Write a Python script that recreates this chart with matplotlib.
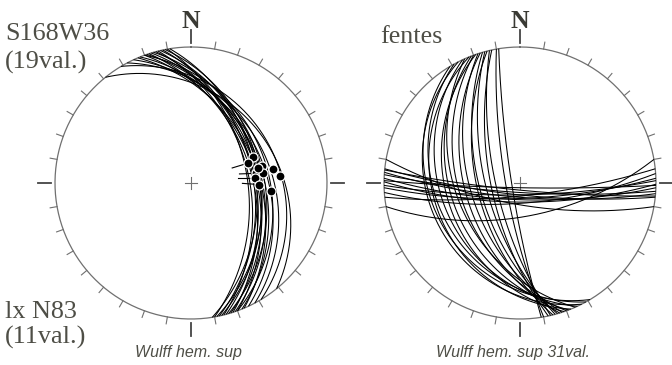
import numpy as np
import matplotlib
matplotlib.use("Agg")
import matplotlib.pyplot as plt

# ---------------- data ----------------
# Left net: planes S168W36 (19 values) -> strike (south end azimuth) and dip (to the W)
left_strike = [141, 149, 152, 155, 157, 158, 160, 161, 162, 163, 164, 165, 166, 167, 168, 169, 170, 171, 160]
left_dip = [26, 25, 30, 33, 38, 35, 40, 36, 42, 38, 34, 40, 44, 37, 41, 36, 45, 39, 31]
# Left net: lineations lx N83 (11 values) -> azimuth, elevation (upper hemisphere)
lin_az = [66.9, 70.8, 76.7, 80.5, 85.5, 81.6, 82.3, 85.9, 91.3, 95.5, 77.4]
lin_el = [37.5, 41.8, 33.8, 27.0, 23.4, 38.1, 33.8, 39.8, 36.6, 29.0, 36.4]
tail_idx = [1, 5, 7, 8]
tail_az = [253, 268, 270, 274]

# Right net: fentes (31 values)
# E-W group: west-end azimuth and dip (to the N)
ew_west = [280, 276, 275.5, 274.5, 273.5, 272, 271, 270.5, 269, 268, 266, 264, 260]
ew_dip = [72, 80, 84, 78, 82, 76, 86, 74, 80, 77, 73, 79, 62]
# NNW group: north-end azimuth and dip (to the E)
nn_north = [329, 331, 333, 335, 336, 338, 339, 340, 341, 342, 343, 344, 345, 346, 347, 348, 350, 351]
nn_dip = [24, 27, 22, 30, 40, 25, 36, 42, 33, 50, 46, 57, 62, 55, 70, 66, 78, 83]

left_title = ["S168W36", "(19val.)"]
left_sub = ["lx N83", "(11val.)"]
right_title = "fentes"
left_caption = "Wulff hem. sup"
right_caption = "Wulff hem. sup 31val."

# ---------------- layout ----------------
W, H = 672, 365
R = 136.0
CL = (191.0, 183.0)
CR = (520.0, 183.0)
TXT = "#4e4e46"
GRY = "#707070"
SERIF = "Liberation Serif"
FS = 18.8

fig = plt.figure(figsize=(W / 100, H / 100), dpi=100)
ax = fig.add_axes([0, 0, 1, 1])
ax.set_xlim(0, W)
ax.set_ylim(H, 0)
ax.axis("off")


def proj(v, c):
    e, n, u = v
    return c[0] + R * e / (1 + u), c[1] - R * n / (1 + u)


def great_circle(dd, dip, c, **kw):
    ddr, dr = np.radians(dd), np.radians(dip)
    s = np.array([np.sin(ddr - np.pi / 2), np.cos(ddr - np.pi / 2), 0.0])
    u = np.array([-np.sin(ddr) * np.cos(dr), -np.cos(ddr) * np.cos(dr), np.sin(dr)])
    th = np.linspace(0, np.pi, 300)
    v = np.outer(np.cos(th), s) + np.outer(np.sin(th), u)
    x, y = proj(v.T, c)
    ax.plot(x, y, color="black", lw=0.75, solid_capstyle="butt", zorder=3, **kw)


def net(c):
    t = np.linspace(0, 2 * np.pi, 400)
    ax.plot(c[0] + R * np.sin(t), c[1] - R * np.cos(t), color=GRY, lw=0.9, zorder=2)
    for a in range(0, 360, 10):
        ar = np.radians(a)
        if a % 90 == 0:
            r0, r1, lw, col = R + 4, R + 17, 1.3, "#444444"
        else:
            r0, r1, lw, col = R, R + 7, 0.8, GRY
        ax.plot([c[0] + r0 * np.sin(ar), c[0] + r1 * np.sin(ar)],
                [c[1] - r0 * np.cos(ar), c[1] - r1 * np.cos(ar)], color=col, lw=lw, zorder=2)
    ax.plot([c[0] - 6, c[0] + 6], [c[1], c[1]], color=GRY, lw=0.8)
    ax.plot([c[0], c[0]], [c[1] - 6, c[1] + 6], color=GRY, lw=0.8)
    ax.text(c[0], c[1] - R - 19, "N", fontfamily=SERIF, fontweight="bold",
            fontsize=18.5, color="#3a3a34", ha="center", va="baseline")


net(CL)
net(CR)

# left planes
for s, d in zip(left_strike, left_dip):
    great_circle(s + 90, d, CL)

# lineations
pts = []
for a, e in zip(lin_az, lin_el):
    ar, er = np.radians(a), np.radians(e)
    v = np.array([np.cos(er) * np.sin(ar), np.cos(er) * np.cos(ar), np.sin(er)])
    pts.append(proj(v, CL))
for i, ta in zip(tail_idx, tail_az):
    x, y = pts[i]
    t = np.radians(ta)
    ax.plot([x, x + 17 * np.sin(t)], [y, y - 17 * np.cos(t)], color="black", lw=0.8, zorder=4)
for x, y in pts:
    ax.plot(x, y, "o", ms=6.5, mfc="black", mec="white", mew=0.9, zorder=5)

# right planes
for w, d in zip(ew_west, ew_dip):
    great_circle((w + 90) % 360, d, CR)
for n, d in zip(nn_north, nn_dip):
    great_circle((n + 90) % 360, d, CR)

# texts
ax.text(5, 40.5, left_title[0], fontfamily=SERIF, fontsize=FS, color=TXT, va="baseline")
ax.text(5, 69, left_title[1], fontfamily=SERIF, fontsize=FS, color=TXT, va="baseline")
ax.text(5, 318, left_sub[0], fontfamily=SERIF, fontsize=FS, color=TXT, va="baseline")
ax.text(5, 344, left_sub[1], fontfamily=SERIF, fontsize=FS, color=TXT, va="baseline")
ax.text(380, 43, right_title, fontfamily=SERIF, fontsize=FS, color=TXT, va="baseline")
ax.text(188, 357, left_caption, fontfamily="Liberation Sans", style="italic", fontsize=11.5,
        color=TXT, ha="center", va="baseline")
ax.text(513, 357, right_caption, fontfamily="Liberation Sans", style="italic", fontsize=11.5,
        color=TXT, ha="center", va="baseline")

fig.savefig("out.png", dpi=100)
